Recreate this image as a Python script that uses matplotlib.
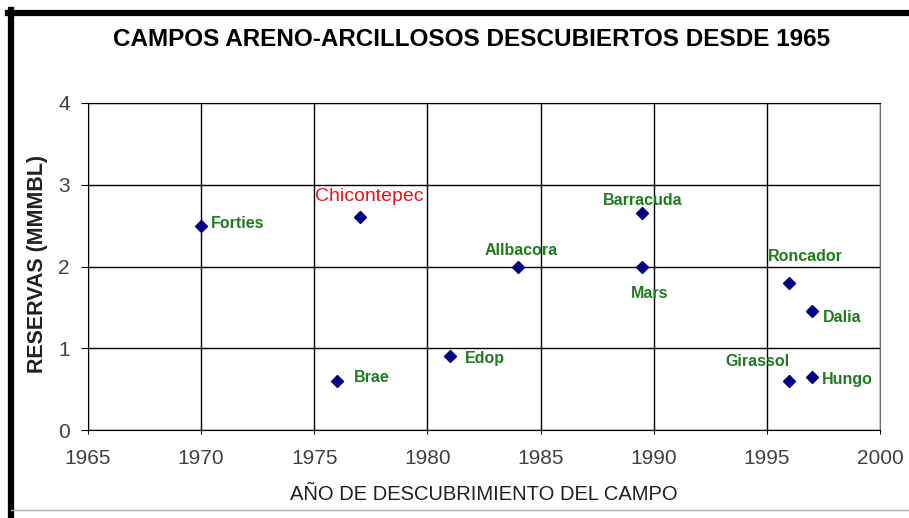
import matplotlib
matplotlib.use('Agg')
import matplotlib.pyplot as plt
from matplotlib.lines import Line2D

plt.rcParams['font.family'] = ['Liberation Sans', 'DejaVu Sans']

# Data
fields = ['Forties', 'Chicontepec', 'Brae', 'Edop', 'Allbacora', 'Barracuda',
          'Mars', 'Roncador', 'Dalia', 'Girassol', 'Hungo']
years = [1970, 1977, 1976, 1981, 1984, 1989.5, 1989.5, 1996, 1997, 1996, 1997]
reserves = [2.5, 2.6, 0.6, 0.9, 2.0, 2.65, 2.0, 1.8, 1.45, 0.6, 0.65]

x_ticks = [1965, 1970, 1975, 1980, 1985, 1990, 1995, 2000]
y_ticks = [0, 1, 2, 3, 4]

# label placement (pixel offsets from the point, horizontal alignment)
label_pos = {
    'Forties': (10, 2, 'left'),
    'Chicontepec': (10, 21, 'center'),
    'Brae': (17, 3, 'left'),
    'Edop': (15, -2, 'left'),
    'Allbacora': (3, 16, 'center'),
    'Barracuda': (0, 13, 'center'),
    'Mars': (7, -27, 'center'),
    'Roncador': (16, 26, 'center'),
    'Dalia': (11, -6, 'left'),
    'Girassol': (0, 19, 'right'),
    'Hungo': (10, -3, 'left'),
}

fig = plt.figure(figsize=(9.09, 5.18), dpi=100)
ax = fig.add_axes([88 / 909, 1 - 430 / 518, 792 / 909, 327 / 518])

ax.plot(years, reserves, linestyle='none', marker='D', markersize=6.5,
        color='#000080', zorder=3)

for name, x, y in zip(fields, years, reserves):
    dx, dy, ha = label_pos[name]
    if name == 'Chicontepec':
        ax.annotate(name, (x, y), xytext=(dx, dy), textcoords='offset pixels',
                    ha=ha, va='center', color='#e8141e', fontsize=14)
    else:
        ax.annotate(name, (x, y), xytext=(dx, dy), textcoords='offset pixels',
                    ha=ha, va='center', color='#1e7b1e', fontsize=11.5,
                    fontweight='bold')

ax.set_xlim(1965, 2000)
ax.set_ylim(0, 4)
ax.set_xticks(x_ticks)
ax.set_yticks(y_ticks)
ax.grid(True, color='black', linewidth=1)
ax.set_axisbelow(True)
ax.tick_params(axis='x', length=3, pad=11, labelsize=15, labelcolor='#404040')
ax.tick_params(axis='y', length=5, pad=8, labelsize=15, labelcolor='#404040')
for s in ['left', 'bottom', 'top']:
    ax.spines[s].set_color('black')
ax.spines['right'].set_color('#707070')

fig.text(472 / 909, 1 - 40 / 518, 'CAMPOS ARENO-ARCILLOSOS DESCUBIERTOS DESDE 1965',
         ha='center', va='center', fontsize=17.5, fontweight='bold')
fig.text(484 / 909, 1 - 494 / 518, 'AÑO DE DESCUBRIMIENTO DEL CAMPO',
         ha='center', va='center', fontsize=14.5, color='#202020')
fig.text(38 / 909, 1 - 264 / 518, 'RESERVAS (MMMBL)', rotation=90,
         ha='center', va='center', fontsize=15.5, fontweight='bold', color='#202020')

# outer frame: thick black left/top, thin grey bottom
fig.add_artist(Line2D([11 / 909, 11 / 909], [0, 1 - 10 / 518], color='black',
                      linewidth=4.5, transform=fig.transFigure))
fig.add_artist(Line2D([8 / 909, 1], [1 - 13 / 518, 1 - 13 / 518], color='black',
                      linewidth=4.5, transform=fig.transFigure))
fig.add_artist(Line2D([11 / 909, 1], [1 - 510 / 518, 1 - 510 / 518], color='#b0b0b0',
                      linewidth=1, transform=fig.transFigure))

fig.savefig('out.png', dpi=100)
